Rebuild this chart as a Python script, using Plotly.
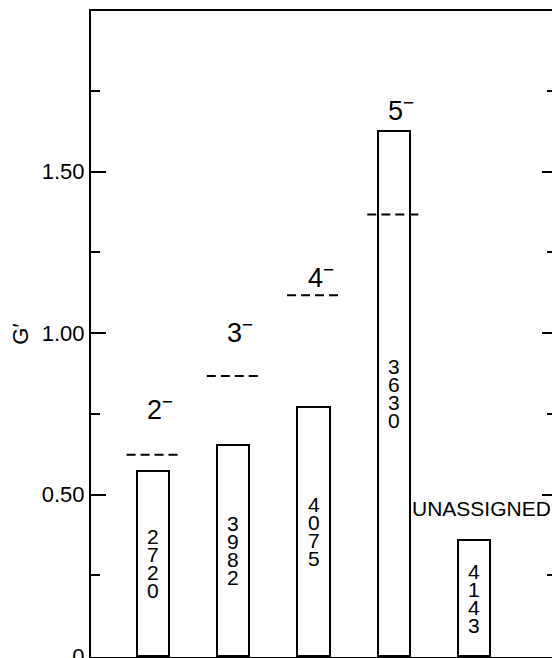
import plotly.graph_objects as go

# ---- data ----
states = ["2⁻", "3⁻", "4⁻", "5⁻", "UNASSIGNED"]
state_text = ["2<sup>−</sup>", "3<sup>−</sup>", "4<sup>−</sup>", "5<sup>−</sup>", "UNASSIGNED"]
energies = ["2720", "3982", "4075", "3630", "4143"]
g_measured = [0.574, 0.654, 0.772, 1.627, 0.358]
g_predicted = [0.623, 0.867, 1.117, 1.367, None]

y_tickvals = [0, 0.5, 1.0, 1.5]
y_ticktext = ["0", "0.50", "1.00", "1.50"]
y_minorvals = [0.25, 0.75, 1.25, 1.75]

# ---- layout / styling parameters ----
FONT = "Liberation Sans, Arial, sans-serif"
label_lift_px = [47, 45, 19, 22, 32]   # label height above bar/dash top
label_xshift_px = 7
digit_pitch_px = 18
bar_width = 0.40
dash_half = 0.33

xpos = list(range(len(states)))

fig = go.Figure()

fig.add_trace(go.Bar(
    x=xpos, y=g_measured, width=bar_width,
    marker=dict(color="white", line=dict(color="black", width=2)),
    hoverinfo="skip", showlegend=False,
))

dx, dy = [], []
for i, v in zip(xpos, g_predicted):
    if v is None:
        continue
    dx += [i - dash_half, i + dash_half, None]
    dy += [v, v, None]
fig.add_trace(go.Scatter(
    x=dx, y=dy, mode="lines",
    line=dict(color="black", width=2, dash="9px,5px"),
    hoverinfo="skip", showlegend=False,
))

# invisible trace to realise the mirrored right-hand tick axis
fig.add_trace(go.Scatter(x=[None], y=[None], yaxis="y2", showlegend=False, hoverinfo="skip"))

annotations = []
# vertical digit stacks inside the bars
for i, v, e in zip(xpos, g_measured, energies):
    n = len(e)
    for k, ch in enumerate(e):
        annotations.append(dict(
            x=i, y=v / 2, xref="x", yref="y",
            yshift=((n - 1) / 2 - k) * digit_pitch_px,
            text=ch, showarrow=False,
            font=dict(family=FONT, size=21, color="black"),
        ))
# spin labels above bars
for i, v, p, t, lift in zip(xpos, g_measured, g_predicted, state_text, label_lift_px):
    top = max(v, p if p is not None else 0)
    size = 27 if p is not None else 21
    annotations.append(dict(
        x=i, y=top, xref="x", yref="y", yanchor="middle",
        yshift=lift, xshift=label_xshift_px,
        text=t, showarrow=False,
        font=dict(family=FONT, size=size, color="black"),
    ))

fig.update_layout(
    width=552, height=658,
    margin=dict(l=91, r=0, t=11, b=1),
    paper_bgcolor="white", plot_bgcolor="white",
    showlegend=False, bargap=0,
    font=dict(family=FONT, color="black"),
    annotations=annotations,
    xaxis=dict(
        range=[-0.773, 4.972], showline=True, linecolor="black", linewidth=2,
        mirror=True, showticklabels=False, ticks="", showgrid=False, zeroline=False,
        automargin=False,
    ),
    yaxis=dict(
        range=[-0.003, 1.997], tickmode="array", tickvals=y_tickvals, ticktext=y_ticktext,
        ticks="inside", ticklen=15, tickwidth=2, tickcolor="black",
        showline=True, linecolor="black", linewidth=2,
        showgrid=False, zeroline=False, ticklabeloverflow="allow", automargin=False,
        tickfont=dict(family=FONT, size=22, color="black"),
        minor=dict(tickmode="array", tickvals=y_minorvals, ticks="inside",
                   ticklen=9, tickwidth=2, tickcolor="black", showgrid=False),
        title=dict(text="G′", font=dict(family=FONT, size=22, color="black"), standoff=7),
    ),
    yaxis2=dict(
        overlaying="y", side="right", anchor="x", range=[-0.003, 1.997],
        tickmode="array", tickvals=y_tickvals, showticklabels=False,
        ticks="inside", ticklen=10, tickwidth=2, tickcolor="black",
        showline=False, showgrid=False, zeroline=False, automargin=False,
        minor=dict(tickmode="array", tickvals=y_minorvals, ticks="inside",
                   ticklen=5, tickwidth=2, tickcolor="black", showgrid=False),
    ),
)

fig.write_html("out.html")
